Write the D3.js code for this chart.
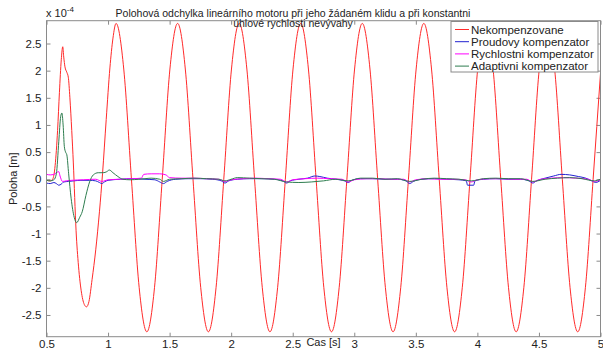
<!DOCTYPE html>
<html>
<head>
<meta charset="utf-8">
<script src="https://cdn.jsdelivr.net/npm/d3@7"></script>
<style>
  body { margin: 0; background: #fff; }
  svg { display: block; font-family: "Liberation Sans", Arial, sans-serif; }
</style>
</head>
<body>
<svg id="chart" width="603" height="351"></svg>
<script>
// values are in units of 1e-4 m, time in s
const seriesNames = ["Nekompenzovane", "Proudovy kompenzator", "Rychlostni kompenzator", "Adaptivni kompenzator"];
const xTicks = [0.5, 1, 1.5, 2, 2.5, 3, 3.5, 4, 4.5, 5];
const yTicks = [-2.5, -2, -1.5, -1, -0.5, 0, 0.5, 1, 1.5, 2, 2.5];

const nekompenzovane = [
  [0.50,-0.02],[0.53,-0.03],[0.55,0.0],[0.57,0.25],[0.59,0.9],[0.605,1.6],[0.62,2.2],[0.632,2.44],
  [0.64,2.25],[0.65,2.07],[0.665,1.97],[0.677,1.88],[0.69,1.5],[0.705,0.9],[0.718,0.3],[0.74,-0.94],
  [0.76,-1.6],[0.785,-2.1],[0.81,-2.32],[0.825,-2.35],[0.845,-2.25],[0.87,-1.85],[0.90,-1.3],
  [0.93,-0.6],[0.955,0.1],[0.985,1.1],[1.015,2.05],[1.04,2.6],[1.065,2.87],
  [1.1275,2.03],[1.19,0],[1.2525,-1.99],[1.315,-2.81],[1.3775,-1.99],[1.44,0],[1.5025,2.03],
  [1.565,2.87],[1.6275,2.03],[1.69,0],[1.7525,-1.99],[1.815,-2.81],[1.8775,-1.99],[1.94,0],[2.0025,2.03],
  [2.065,2.87],[2.1275,2.03],[2.19,0],[2.2525,-1.99],[2.315,-2.81],[2.3775,-1.99],[2.44,0],[2.5025,2.03],
  [2.565,2.87],[2.6275,2.03],[2.69,0],[2.7525,-1.99],[2.815,-2.81],[2.8775,-1.99],[2.94,0],[3.0025,2.03],
  [3.065,2.87],[3.1275,2.03],[3.19,0],[3.2525,-1.99],[3.315,-2.81],[3.3775,-1.99],[3.44,0],[3.5025,2.03],
  [3.565,2.87],[3.6275,2.03],[3.69,0],[3.7525,-1.99],[3.815,-2.81],[3.8775,-1.99],[3.94,0],[4.0025,2.03],
  [4.065,2.87],[4.1275,2.03],[4.19,0],[4.2525,-1.99],[4.315,-2.81],[4.3775,-1.99],[4.44,0],[4.5025,2.03],
  [4.565,2.87],[4.6275,2.03],[4.69,0],[4.7525,-1.99],[4.815,-2.81],[4.8775,-1.99],[4.94,0],[5.0,1.95]
];

const proudovy = [
  [0.50,-0.07],[0.53,-0.08],[0.56,-0.06],[0.58,-0.08],[0.60,-0.11],[0.62,-0.09],[0.64,-0.05],[0.68,-0.04],
  [0.72,-0.03],[0.78,-0.02],[0.85,-0.02],[0.90,-0.03],[0.93,-0.06],[0.95,-0.08],[0.97,-0.05],[1.0,-0.02],
  [1.1,0.0],[1.2,0.01],[1.3,0.0],[1.38,-0.01],[1.42,-0.05],[1.45,-0.08],[1.48,-0.04],[1.55,0.0],
  [1.65,0.01],[1.75,0.01],[1.85,0.0],[1.92,-0.03],[1.95,-0.07],[1.98,-0.03],[2.05,0.0],[2.15,0.01],
  [2.25,0.01],[2.35,0.0],[2.42,-0.03],[2.45,-0.07],[2.48,-0.03],[2.55,0.0],[2.62,0.02],[2.68,0.06],
  [2.72,0.05],[2.78,0.02],[2.85,0.0],[2.92,-0.03],[2.95,-0.06],[2.98,-0.02],[3.05,0.01],[3.15,0.01],
  [3.25,0.0],[3.35,0.0],[3.42,-0.03],[3.45,-0.08],[3.48,-0.04],[3.55,0.0],[3.65,0.01],[3.75,0.0],
  [3.85,-0.01],[3.91,-0.03],[3.92,-0.11],[3.97,-0.11],[3.98,-0.03],[4.05,0.0],[4.15,0.01],[4.25,0.0],
  [4.35,0.0],[4.42,-0.03],[4.45,-0.07],[4.48,-0.03],[4.55,0.02],[4.62,0.06],[4.68,0.09],[4.75,0.08],
  [4.82,0.05],[4.88,0.02],[4.93,-0.03],[4.96,-0.06],[5.0,-0.02]
];

const rychlostni = [
  [0.50,0.09],[0.53,0.08],[0.56,0.09],[0.58,0.12],[0.60,0.14],[0.61,0.06],[0.63,-0.04],[0.66,-0.03],
  [0.70,-0.02],[0.8,-0.01],[0.9,0.0],[0.95,-0.04],[1.0,-0.01],[1.1,0.0],[1.2,0.01],[1.27,0.02],
  [1.29,0.09],[1.35,0.1],[1.42,0.1],[1.47,0.08],[1.5,0.03],[1.6,0.02],[1.7,0.02],[1.8,0.01],
  [1.9,0.0],[1.95,-0.04],[2.0,-0.01],[2.1,0.01],[2.2,0.02],[2.3,0.01],[2.4,0.0],[2.45,-0.05],
  [2.5,-0.01],[2.6,0.01],[2.7,0.02],[2.8,0.01],[2.9,0.0],[2.95,-0.05],[3.0,-0.01],[3.1,0.01],
  [3.2,0.01],[3.3,0.0],[3.4,0.0],[3.45,-0.05],[3.5,-0.01],[3.6,0.01],[3.7,0.0],[3.8,0.0],
  [3.9,-0.01],[3.95,-0.05],[4.0,-0.01],[4.1,0.01],[4.2,0.01],[4.3,0.0],[4.4,0.0],[4.45,-0.05],
  [4.5,-0.01],[4.6,0.02],[4.7,0.03],[4.8,0.02],[4.9,0.0],[4.95,-0.04],[5.0,-0.01]
];

const adaptivni = [
  [0.50,-0.02],[0.53,-0.03],[0.56,-0.01],[0.58,0.1],[0.60,0.7],[0.615,1.15],[0.625,1.22],[0.635,1.0],
  [0.645,0.6],[0.655,0.5],[0.665,0.45],[0.68,0.1],[0.70,-0.35],[0.725,-0.7],[0.745,-0.8],[0.77,-0.7],
  [0.79,-0.6],[0.82,-0.3],[0.85,-0.05],[0.88,0.08],[0.92,0.12],[0.96,0.12],[0.99,0.14],[1.01,0.17],
  [1.04,0.12],[1.08,0.05],[1.12,0.0],[1.18,-0.01],[1.25,0.0],[1.3,0.01],[1.35,0.02],[1.42,0.0],
  [1.45,-0.04],[1.5,0.0],[1.6,0.01],[1.7,0.02],[1.8,0.01],[1.9,0.0],[1.95,-0.03],[2.0,0.0],
  [2.05,0.03],[2.15,0.02],[2.25,0.01],[2.35,0.0],[2.45,-0.05],[2.55,-0.06],[2.65,-0.05],[2.75,-0.03],
  [2.85,0.0],[2.95,-0.03],[3.05,0.02],[3.15,0.02],[3.25,0.0],[3.35,0.01],[3.45,-0.04],[3.55,0.0],
  [3.65,0.02],[3.75,0.01],[3.85,0.0],[3.95,-0.03],[4.05,0.01],[4.15,0.02],[4.25,0.01],[4.35,0.01],
  [4.45,-0.04],[4.55,0.0],[4.65,0.02],[4.75,0.03],[4.85,0.01],[4.95,-0.03],[5.0,0.0]
];

const series = [nekompenzovane, proudovy, rychlostni, adaptivni];
const colors = ["#ff2a2a", "#2222d0", "#ff00ff", "#2e7d4f"];

const plotLeft = 46.5, plotRight = 600.5, plotTop = 20.7, plotBottom = 336.7;
const svg = d3.select("#chart");
const axisColor = "#8a8a8a";
const fmt = d3.format("~g");

const x = d3.scaleLinear().domain([0.5, 5]).range([plotLeft, plotRight]);
const y = d3.scaleLinear().domain([-2.9, 2.92]).range([plotBottom, plotTop]);

// bottom axis with labels, ticks pointing inward
const gx = svg.append("g")
  .attr("transform", "translate(0," + plotBottom + ")")
  .call(d3.axisBottom(x).tickValues(xTicks).tickSize(-4).tickPadding(3).tickFormat(fmt));
// left axis
const gy = svg.append("g")
  .attr("transform", "translate(" + plotLeft + ",0)")
  .call(d3.axisLeft(y).tickValues(yTicks).tickSize(-4).tickPadding(5).tickFormat(d => fmt(d).replace("−", "-")));
// top and right: ticks only
const gt = svg.append("g")
  .attr("transform", "translate(0," + plotTop + ")")
  .call(d3.axisTop(x).tickValues(xTicks).tickSize(-4).tickFormat(""));
const gr = svg.append("g")
  .attr("transform", "translate(" + plotRight + ",0)")
  .call(d3.axisRight(y).tickValues(yTicks).tickSize(-4).tickFormat(""));

[gx, gy, gt, gr].forEach(g => {
  g.select(".domain").remove();
  g.selectAll("line").attr("stroke", axisColor);
  g.selectAll("text").attr("fill", "#222").style("font-size", "11.5px").style("font-family", "Liberation Sans, Arial, sans-serif");
});

// lines
const line = d3.line()
  .x(d => x(d[0]))
  .y(d => y(d[1]))
  .curve(d3.curveMonotoneX);

svg.append("defs").append("clipPath").attr("id", "clip")
  .append("rect").attr("x", plotLeft).attr("y", plotTop)
  .attr("width", plotRight - plotLeft).attr("height", plotBottom - plotTop);

const plot = svg.append("g").attr("clip-path", "url(#clip)");
series.forEach((s, i) => {
  plot.append("path")
    .datum(s)
    .attr("fill", "none")
    .attr("stroke", colors[i])
    .attr("stroke-width", 1)
    .attr("stroke-linejoin", "round")
    .attr("d", line);
});

// frame
svg.append("rect")
  .attr("x", plotLeft).attr("y", plotTop)
  .attr("width", plotRight - plotLeft).attr("height", plotBottom - plotTop)
  .attr("fill", "none").attr("stroke", axisColor).attr("stroke-width", 1);

// title
svg.append("text")
  .attr("x", 293).attr("y", 16.5)
  .attr("text-anchor", "middle")
  .style("font-size", "10.5px").attr("fill", "#222")
  .text("Polohová odchylka lineárního motoru při jeho žádaném klidu a při konstantni");
svg.append("text")
  .attr("x", 293).attr("y", 27)
  .attr("text-anchor", "middle")
  .style("font-size", "10.5px").attr("fill", "#222")
  .text("úhlové rychlosti nevývahy");

// exponent
const ex = svg.append("text").attr("x", 46).attr("y", 16.5).attr("fill", "#222").style("font-size", "11px");
ex.append("tspan").text("x 10");
ex.append("tspan").attr("dy", -5).style("font-size", "8px").text("-4");

// axis labels
svg.append("text")
  .attr("x", (plotLeft + plotRight) / 2).attr("y", 346)
  .attr("text-anchor", "middle")
  .style("font-size", "11px").attr("fill", "#222")
  .text("Cas [s]");
svg.append("text")
  .attr("transform", "translate(17," + (plotTop + plotBottom) / 2 + ")rotate(-90)")
  .attr("text-anchor", "middle")
  .style("font-size", "11px").attr("fill", "#222")
  .text("Poloha [m]");

// legend
const lg = svg.append("g");
lg.append("rect")
  .attr("x", 451).attr("y", 21.5).attr("width", 147).attr("height", 50.5)
  .attr("fill", "#fff").attr("stroke", axisColor);
seriesNames.forEach((name, i) => {
  const yy = 29.5 + i * 12.2;
  lg.append("line")
    .attr("x1", 455).attr("x2", 469).attr("y1", yy).attr("y2", yy)
    .attr("stroke", colors[i]).attr("stroke-width", 1);
  lg.append("text")
    .attr("x", 471).attr("y", yy + 4)
    .style("font-size", "11.5px").attr("fill", "#222")
    .text(name);
});
</script>
</body>
</html>
